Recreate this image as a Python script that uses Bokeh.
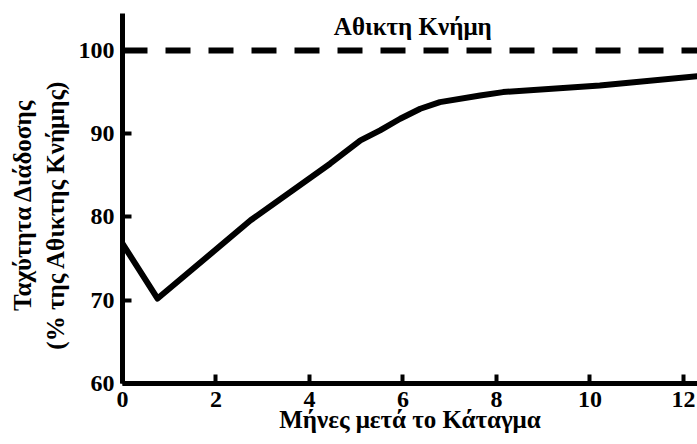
import math
from bokeh.plotting import figure
from bokeh.layouts import row
from bokeh.models import FixedTicker, Span, Label, Range1d
from bokeh.embed import file_html
from bokeh.resources import INLINE

# Data
months = [0, 0.75, 2.74, 4.44, 5.09, 5.51, 5.94, 6.37, 6.79, 7.65, 8.14, 10.21, 12.3]
speed_pct = [76.8, 70.2, 79.6, 86.4, 89.2, 90.4, 91.8, 93.0, 93.8, 94.6, 95.0, 95.8, 96.9]
intact_level = 100
intact_text = "Αθικτη Κνήμη"
x_ticks = [0, 2, 4, 6, 8, 10, 12]
y_ticks = [60, 70, 80, 90, 100]
x_title = "Μήνες μετά το Κάταγμα"
y_title_lines = ["Ταχύτητα Διάδοσης", "(% της  Αθικτης Κνήμης)"]

FONT = "Liberation Serif"

# narrow panel on the left that carries the two-line y title
TW, H = 75, 444
tp = figure(width=TW, height=H, output_backend="svg", toolbar_location=None,
            x_range=Range1d(0, TW), y_range=Range1d(0, H),
            x_axis_type=None, y_axis_type=None, min_border=0)
tp.outline_line_color = None
tp.xgrid.visible = False
tp.ygrid.visible = False
for line_text, lx, ly in zip(y_title_lines, [22, 55], [H - 230, H - 238]):
    tp.add_layout(Label(x=lx, y=ly, text=line_text, angle=math.pi / 2,
                        text_align="center", text_baseline="middle",
                        text_font=FONT, text_font_style="bold",
                        text_font_size="25px", text_color="black"))

p = figure(width=697 - TW, height=H, output_backend="svg", toolbar_location=None,
           x_range=Range1d(0, 12.3), y_range=Range1d(60, 104.44),
           min_border_left=122 - TW, min_border_right=0, min_border_top=13,
           min_border_bottom=61)
p.outline_line_color = None
p.xgrid.visible = False
p.ygrid.visible = False
p.background_fill_color = "white"
p.border_fill_color = "white"

p.line(months, speed_pct, line_color="black", line_width=6, line_join="round")

span = Span(location=intact_level, dimension="width", line_color="black",
            line_width=6, line_dash="25 18")
p.add_layout(span)

p.add_layout(Label(x=6.21, y=102.9, text=intact_text, text_align="center",
                   text_baseline="middle", text_font=FONT, text_font_style="bold",
                   text_font_size="25px", text_color="black"))

for ax in (p.xaxis[0], p.yaxis[0]):
    ax.axis_line_width = 5
    ax.axis_line_color = "black"
    ax.major_tick_in = 9
    ax.major_tick_out = 0
    ax.major_tick_line_width = 4
    ax.major_tick_line_color = "black"
    ax.minor_tick_line_color = None
    ax.major_label_text_font = FONT
    ax.major_label_text_font_style = "bold"
    ax.major_label_text_font_size = "24px"
    ax.major_label_text_color = "black"
    ax.axis_label_text_font = FONT
    ax.axis_label_text_font_style = "bold"
    ax.axis_label_text_color = "black"

p.xaxis.ticker = FixedTicker(ticks=x_ticks)
p.yaxis.ticker = FixedTicker(ticks=y_ticks)
p.xaxis.axis_label = x_title
p.xaxis.axis_label_text_font_size = "25px"
p.xaxis.major_label_standoff = 8
p.xaxis.axis_label_standoff = -4
p.yaxis.major_label_standoff = 8

layout = row(tp, p, spacing=0)
open("out.html", "w").write(file_html(layout, INLINE))
